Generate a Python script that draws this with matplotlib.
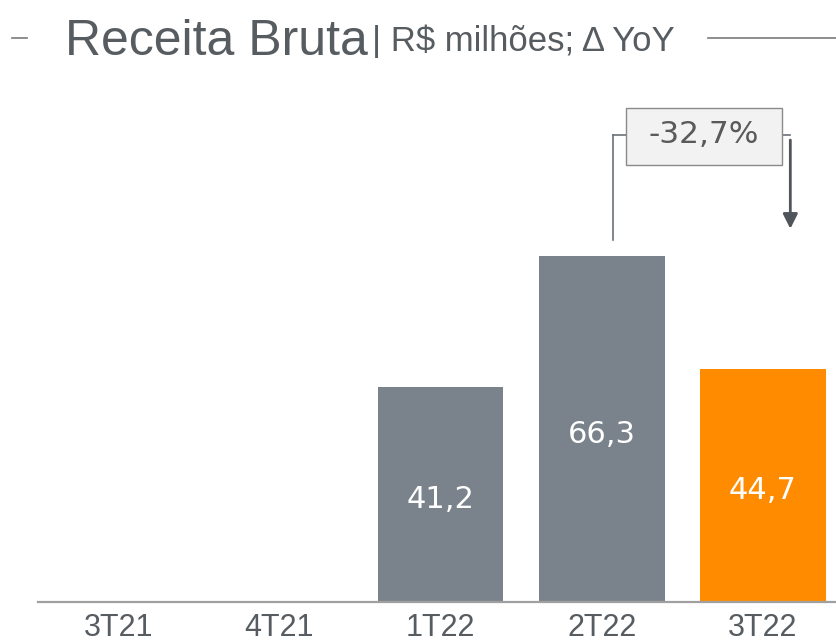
import numpy as np
import matplotlib.pyplot as plt
from matplotlib.patches import Rectangle

# data
quarters = ['3T21', '4T21', '1T22', '2T22', '3T22']
receita = [0.0, 0.0, 41.2, 66.3, 44.7]
labels = ['', '', '41,2', '66,3', '44,7']
yoy_label = '-32,7%'

gray = '#7a838c'
orange = '#ff8c00'
text_gray = '#575c61'
colors = [gray, gray, gray, gray, orange]

W, H = 837, 642
fig = plt.figure(figsize=(W / 100, H / 100), dpi=100)
ax = fig.add_axes([0, 0, 1, 1])
ax.set_axis_off()

# pixel -> data mapping: category spacing 161 px, 5.22 px per unit
x_left = -(118 / 161)
x_right = 4 + (W - 763) / 161
ax.set_xlim(x_left, x_right)
ax.set_ylim(-(H - 602) / 5.22, 602 / 5.22)

x = np.arange(len(quarters))
ax.bar(x, receita, width=0.78, color=colors, zorder=2)

# baseline
ax.axhline(0, xmin=(38 / W), xmax=1, color='#a0a0a0', lw=1.6, zorder=3)

for xi, v, lab in zip(x, receita, labels):
    if lab:
        ax.text(xi, v / 2 - 1, lab, ha='center', va='center', color='white',
                fontsize=22, family='DejaVu Sans', zorder=4)

for xi, q in zip(x, quarters):
    ax.text(xi, -4.9, q, ha='center', va='center', color=text_gray,
            fontsize=22, family='Liberation Sans')

# YoY bracket 2T22 -> 3T22
lvl = 89.5
xa = x[3] + 0.07
xb = x[4] + 0.17
box_l, box_r = x[3] + 0.15, x[4] + 0.12
box_h = 11.0
ax.plot([xa, xa], [receita[3] + 3, lvl], color='#6b7078', lw=1.2)
ax.plot([xa, box_l], [lvl, lvl], color='#6b7078', lw=1.2)
ax.plot([box_r, xb], [lvl, lvl], color='#6b7078', lw=1.2)
ax.annotate('', xy=(xb, 71.5), xytext=(xb, lvl - 1),
            arrowprops=dict(arrowstyle='-|>', color='#50555b', lw=2,
                            mutation_scale=22, shrinkA=0, shrinkB=0))
ax.add_patch(Rectangle((box_l, lvl - box_h / 2 - 0.3), box_r - box_l, box_h,
                       fc='#f2f2f2', ec='#8a8a8a', lw=1, zorder=5))
ax.text((box_l + box_r) / 2, lvl, yoy_label, ha='center', va='center',
        color='#5a5a5a', fontsize=22.5, family='DejaVu Sans', zorder=6)

# title
fig.text(65 / W, 1 - 42 / H, 'Receita Bruta', ha='left', va='center',
         color=text_gray, fontsize=36, family='Liberation Sans')
fig.text(372 / W, 1 - 41 / H, '| R$ milhões; Δ YoY', ha='left', va='center',
         color=text_gray, fontsize=25, family='Liberation Sans')
fig.add_artist(plt.Line2D([12 / W, 27 / W], [1 - 38 / H, 1 - 38 / H],
                          color='#7a7a7a', lw=1.2))
fig.add_artist(plt.Line2D([708 / W, 1], [1 - 38 / H, 1 - 38 / H],
                          color='#7a7a7a', lw=1.2))

fig.savefig('out.png', dpi=100)
